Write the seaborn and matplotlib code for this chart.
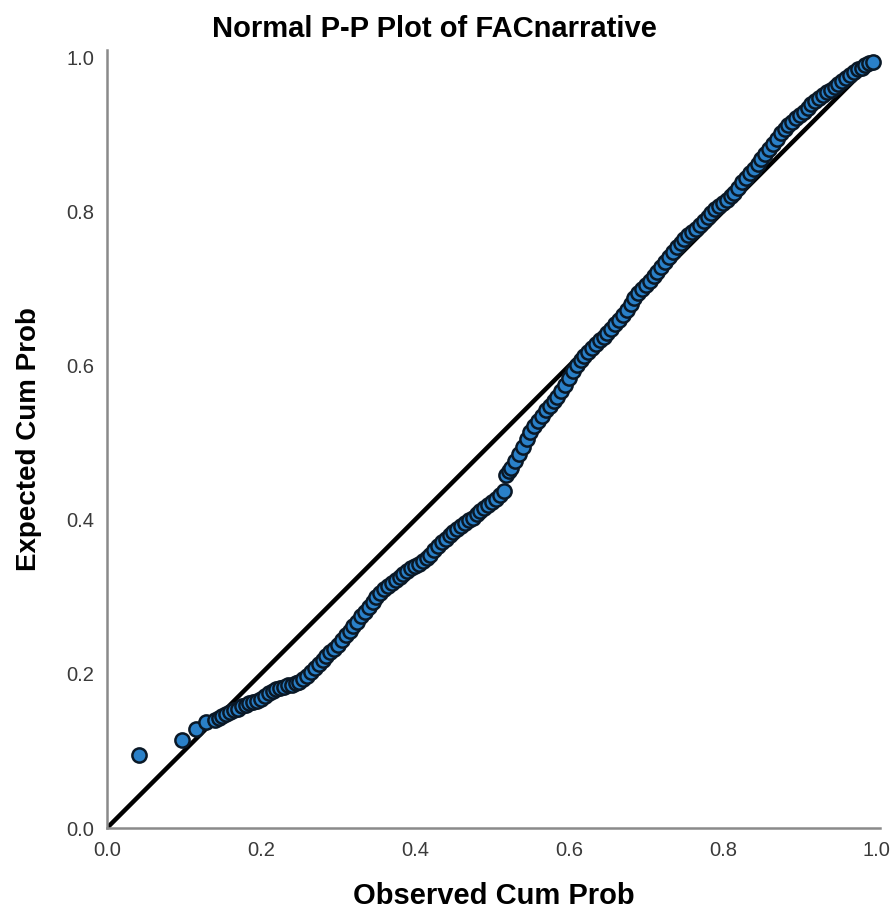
import numpy as np
import pandas as pd
import matplotlib
matplotlib.use("Agg")
import matplotlib.pyplot as plt
import seaborn as sns

# values
observed = [0.042, 0.097, 0.115, 0.128,
            0.140, 0.145, 0.150, 0.155, 0.160, 0.165, 0.170, 0.175, 0.180, 0.185,
            0.190, 0.195, 0.200, 0.205, 0.210, 0.215, 0.220, 0.225, 0.230, 0.235,
            0.240, 0.245, 0.250, 0.255, 0.260, 0.265, 0.270, 0.275, 0.280, 0.285,
            0.290, 0.295, 0.300, 0.305, 0.310, 0.315, 0.320, 0.325, 0.330, 0.335,
            0.340, 0.345, 0.350, 0.355, 0.360, 0.365, 0.370, 0.375, 0.380, 0.385,
            0.390, 0.395, 0.400, 0.405, 0.410, 0.415, 0.420, 0.425, 0.430, 0.435,
            0.440, 0.445, 0.450, 0.455, 0.460, 0.465, 0.470, 0.475, 0.480, 0.485,
            0.490, 0.495, 0.500, 0.505, 0.510, 0.515,
            0.518, 0.522, 0.525, 0.530, 0.535, 0.540, 0.545, 0.550, 0.555, 0.560,
            0.565, 0.570, 0.575, 0.580, 0.585, 0.590, 0.595, 0.600, 0.605, 0.610,
            0.615, 0.620, 0.625, 0.630, 0.635, 0.640, 0.645, 0.650, 0.655, 0.660,
            0.665, 0.670, 0.675, 0.680, 0.685, 0.690, 0.695, 0.700, 0.705, 0.710,
            0.715, 0.720, 0.725, 0.730, 0.735, 0.740, 0.745, 0.750, 0.755, 0.760,
            0.765, 0.770, 0.775, 0.780, 0.785, 0.790, 0.795, 0.800, 0.805, 0.810,
            0.815, 0.820, 0.825, 0.830, 0.835, 0.840, 0.845, 0.850, 0.855, 0.860,
            0.865, 0.870, 0.875, 0.880, 0.885, 0.890, 0.895, 0.900, 0.905, 0.910,
            0.915, 0.920, 0.925, 0.930, 0.935, 0.940, 0.945, 0.950, 0.955, 0.960,
            0.965, 0.970, 0.975, 0.980, 0.985, 0.990, 0.995]
expected = [0.095, 0.114, 0.128, 0.138,
            0.140, 0.143, 0.145, 0.148, 0.150, 0.153, 0.155, 0.158, 0.160, 0.162,
            0.163, 0.165, 0.167, 0.171, 0.175, 0.178, 0.180, 0.182, 0.183, 0.185,
            0.186, 0.188, 0.190, 0.193, 0.197, 0.203, 0.208, 0.213, 0.218, 0.223,
            0.228, 0.233, 0.238, 0.244, 0.250, 0.256, 0.262, 0.268, 0.275, 0.281,
            0.287, 0.294, 0.300, 0.305, 0.310, 0.314, 0.318, 0.322, 0.326, 0.330,
            0.333, 0.337, 0.340, 0.343, 0.347, 0.351, 0.355, 0.361, 0.366, 0.371,
            0.375, 0.380, 0.384, 0.388, 0.392, 0.396, 0.400, 0.403, 0.407, 0.411,
            0.415, 0.419, 0.423, 0.427, 0.432, 0.438,
            0.458, 0.463, 0.468, 0.476, 0.485, 0.495, 0.505, 0.514, 0.522, 0.529,
            0.535, 0.542, 0.548, 0.554, 0.560, 0.567, 0.575, 0.584, 0.593, 0.601,
            0.608, 0.613, 0.618, 0.623, 0.628, 0.633, 0.638, 0.643, 0.648, 0.654,
            0.660, 0.666, 0.672, 0.680, 0.688, 0.694, 0.700, 0.705, 0.710, 0.716,
            0.722, 0.728, 0.735, 0.741, 0.748, 0.754, 0.760, 0.765, 0.770, 0.774,
            0.778, 0.783, 0.788, 0.793, 0.798, 0.803, 0.808, 0.811, 0.815, 0.820,
            0.825, 0.831, 0.838, 0.844, 0.850, 0.856, 0.862, 0.868, 0.875, 0.881,
            0.888, 0.895, 0.902, 0.907, 0.912, 0.917, 0.922, 0.926, 0.930, 0.935,
            0.940, 0.944, 0.948, 0.951, 0.955, 0.958, 0.962, 0.966, 0.970, 0.974,
            0.978, 0.981, 0.985, 0.987, 0.990, 0.993, 0.995]
ref_line = [0.0, 1.0]
tick_vals = [0.0, 0.2, 0.4, 0.6, 0.8, 1.0]
tick_labels = ["0.0", "0.2", "0.4", "0.6", "0.8", "1.0"]

df = pd.DataFrame({"Observed": observed, "Expected": expected})

sns.set_style("white")
plt.rcParams["font.family"] = ["Liberation Sans", "DejaVu Sans"]

fig = plt.figure(figsize=(8.96, 9.19), dpi=100)
ax = fig.add_axes([107 / 896, 1 - 828 / 919, (880 - 107) / 896, (828 - 50) / 919])

sns.lineplot(x=ref_line, y=ref_line, color="black", linewidth=3.2, ax=ax, zorder=2)
sns.scatterplot(data=df, x="Observed", y="Expected", s=105, color="#2a80c8",
                edgecolor="#0a1826", linewidth=1.8, ax=ax, zorder=3, clip_on=False)

ax.set_xlim(0, 1.004)
ax.set_ylim(0, 1.01)
ax.set_xticks(tick_vals)
ax.set_xticklabels(tick_labels)
ax.set_yticks(tick_vals)
ax.set_yticklabels(tick_labels)
ax.tick_params(axis="both", length=0, labelsize=14.5, labelcolor="#3a3a3a", pad=9)
for side in ["top", "right"]:
    ax.spines[side].set_visible(False)
for side in ["left", "bottom"]:
    ax.spines[side].set_color("#8a8a8a")
    ax.spines[side].set_linewidth(1.8)

ax.set_xlabel("Observed Cum Prob", fontsize=21, fontweight="bold", labelpad=16, color="black")
ax.set_ylabel("Expected Cum Prob", fontsize=20, fontweight="bold", labelpad=18, color="black")
fig.text(0.485, 1 - 29 / 919, "Normal P-P Plot of FACnarrative", ha="center", va="center",
         fontsize=21, fontweight="bold", color="black")

fig.savefig("out.png", dpi=100)
